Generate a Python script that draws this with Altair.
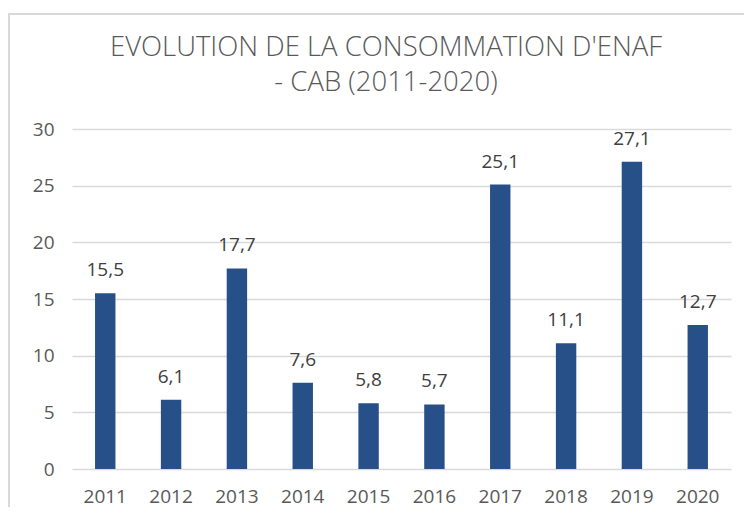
import altair as alt
import pandas as pd

years = ["2011", "2012", "2013", "2014", "2015", "2016", "2017", "2018", "2019", "2020"]
values = [15.5, 6.1, 17.7, 7.6, 5.8, 5.7, 25.1, 11.1, 27.1, 12.7]
labels = ["15,5", "6,1", "17,7", "7,6", "5,8", "5,7", "25,1", "11,1", "27,1", "12,7"]
y_ticks = [0, 5, 10, 15, 20, 25, 30]
title_lines = ["EVOLUTION DE LA CONSOMMATION D'ENAF", "- CAB (2011-2020)"]

df = pd.DataFrame({"year": years, "value": values, "label": labels})

FONT = "Open Sans"
GRAY = "#595959"

x = alt.X("year:N", sort=years, title=None,
          scale=alt.Scale(paddingInner=0.69, paddingOuter=0.35),
          axis=alt.Axis(labelAngle=0, labelFontSize=19, labelColor=GRAY, labelFont=FONT,
                        ticks=False, domain=False, labelPadding=18, grid=False))
y = alt.Y("value:Q", title=None, scale=alt.Scale(domain=[0, 30]),
          axis=alt.Axis(values=y_ticks, labelFontSize=19, labelColor=GRAY, labelFont=FONT,
                        ticks=False, domain=False, labelPadding=18, gridColor="#d9d9d9",
                        gridWidth=1.5))

bars = alt.Chart(df).mark_bar(color="#285088").encode(x=x, y=y)
text = alt.Chart(df).mark_text(baseline="bottom", dy=-13, fontSize=19, font=FONT,
                               color="#404040").encode(x=x, y=y, text="label:N")
frame = alt.Chart(df).mark_rect(fill=None, stroke="#d9d9d9", strokeWidth=2, clip=False).encode(
    x=alt.value(-63), x2=alt.value(720), y=alt.value(-115), y2=alt.value(420))


def title_line(line, ypos):
    return alt.Chart(pd.DataFrame({"t": [line]})).mark_text(
        font=FONT, fontSize=27.5, fontWeight=300, color=GRAY,
        align="center", baseline="alphabetic").encode(
        text="t:N", x=alt.value(314), y=alt.value(ypos))


title1 = title_line(title_lines[0], -73)
title2 = title_line(title_lines[1], -38)

chart = alt.layer(frame, bars, text, title1, title2).properties(
    width=659, height=340,
    padding={"left": 64, "top": 121, "right": 13, "bottom": 38},
    autosize=alt.AutoSizeParams(type="none"),
).configure_view(stroke=None)

chart.save("out.html", embed_options={"renderer": "svg", "actions": False})
